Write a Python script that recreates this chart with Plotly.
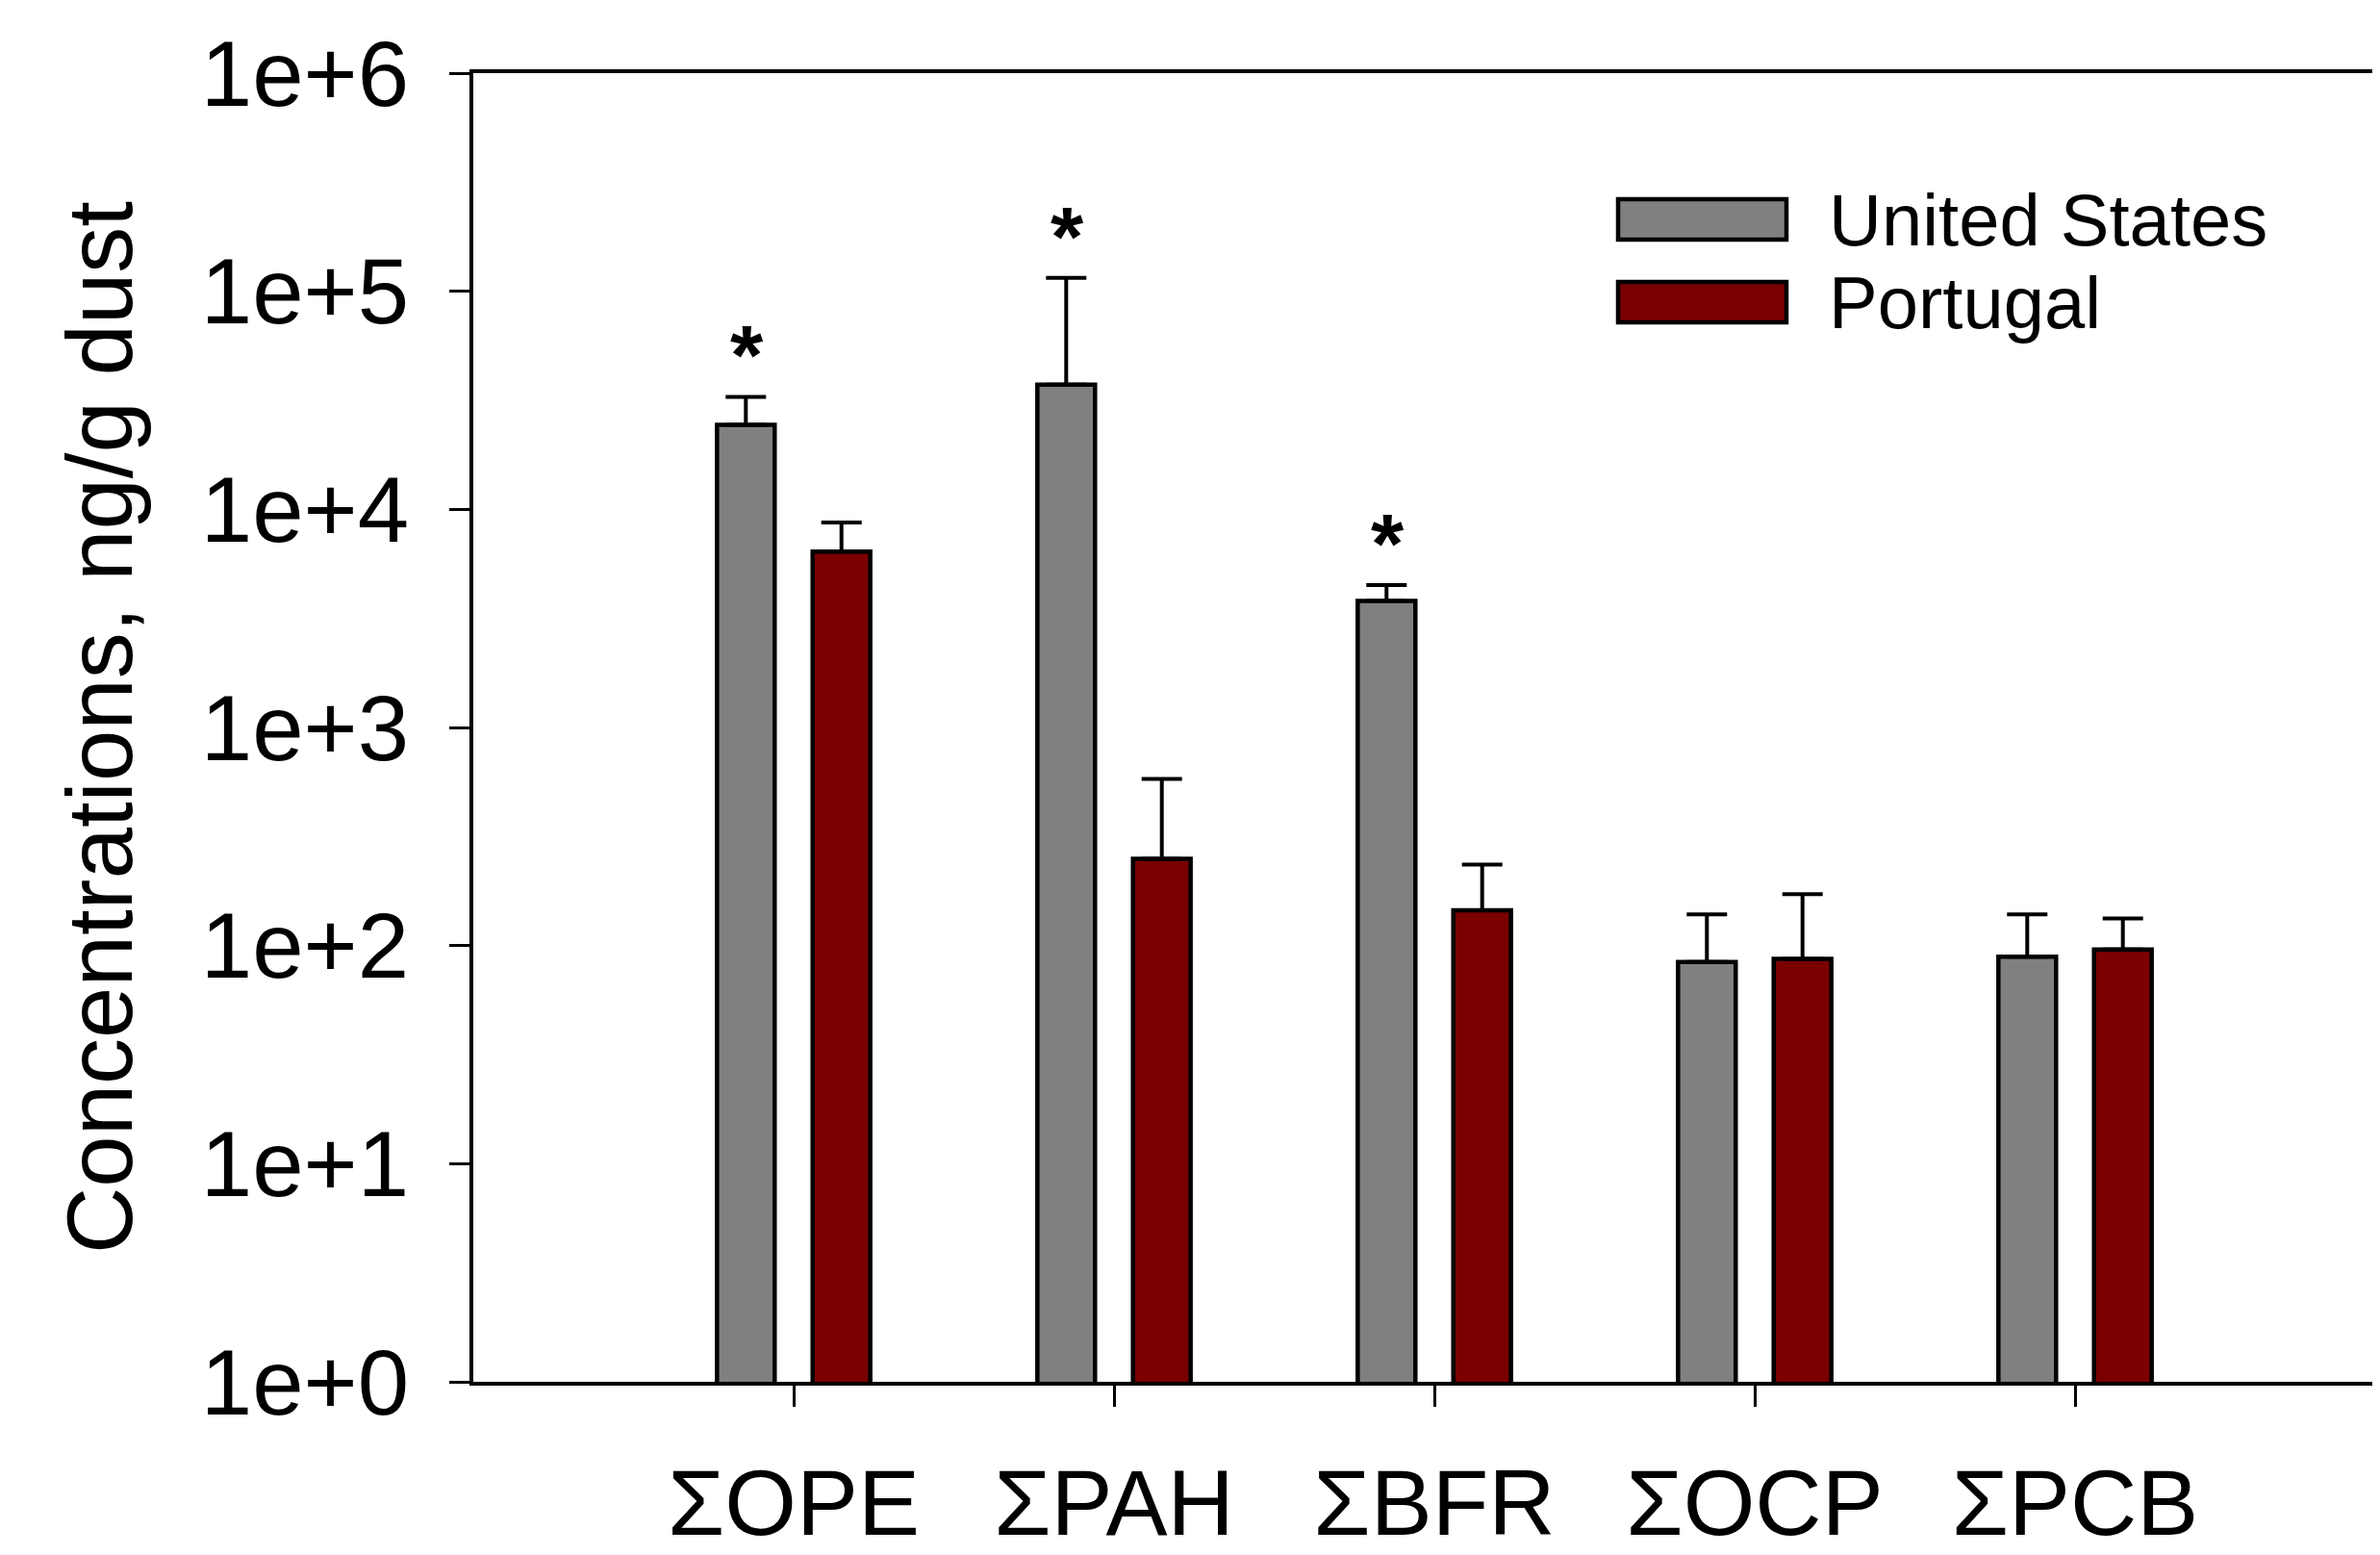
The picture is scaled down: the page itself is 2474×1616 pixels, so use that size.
import math
import plotly.graph_objects as go

categories = ["ΣOPE", "ΣPAH", "ΣBFR", "ΣOCP", "ΣPCB"]
us_values = [24400, 37300, 3800, 84, 89]
us_err_upper = [8400, 78000, 700, 55, 50]
pt_values = [6400, 250, 145, 87, 96]
pt_err_upper = [2300, 330, 90, 85, 37]
us_significant = [True, True, True, False, False]
y_tick_values = [1, 10, 100, 1000, 10000, 100000, 1000000]
y_tick_labels = ["1e+0", "1e+1", "1e+2", "1e+3", "1e+4", "1e+5", "1e+6"]

OFF = 8  # default body margin of the html page
W, H = 2474 - OFF, 1616 - OFF
L, T, R, B = 492 - OFF, 76 - OFF, 0, 180
FONT = "Arial, Liberation Sans, sans-serif"
GRAY = "#808080"
RED = "#7a0000"

x = list(range(len(categories)))

fig = go.Figure()
fig.add_trace(go.Bar(
    x=x, y=us_values, name="United States",
    marker=dict(color=GRAY, line=dict(color="black", width=4.5)),
    error_y=dict(type="data", symmetric=False, array=us_err_upper,
                 arrayminus=[0] * len(us_values), color="black", thickness=4, width=21),
    showlegend=False,
))
fig.add_trace(go.Bar(
    x=x, y=pt_values, name="Portugal",
    marker=dict(color=RED, line=dict(color="black", width=4.5)),
    error_y=dict(type="data", symmetric=False, array=pt_err_upper,
                 arrayminus=[0] * len(pt_values), color="black", thickness=4, width=21),
    showlegend=False,
))

plot_w = W - L - R
plot_h = H - T - B


def px_x(px):
    return (px - OFF - L) / plot_w


def px_y(py):
    return (H - B - (py - OFF)) / plot_h


annotations = []
for i, sig in enumerate(us_significant):
    if sig:
        annotations.append(dict(
            x=i - 0.147, y=math.log10(us_values[i] + us_err_upper[i]),
            xref="x", yref="y", text="<b>*</b>", showarrow=False,
            font=dict(family=FONT, size=88, color="black"),
            yanchor="bottom", yshift=-8,
        ))

# manual legend
shapes = []
legend_items = [("United States", GRAY, 207, 249), ("Portugal", RED, 293, 335)]
for label, col, y0, y1 in legend_items:
    shapes.append(dict(type="rect", xref="paper", yref="paper",
                       x0=px_x(1682), x1=px_x(1857), y0=px_y(y1), y1=px_y(y0),
                       fillcolor=col, line=dict(color="black", width=4.5)))
    annotations.append(dict(x=px_x(1899), y=px_y((y0 + y1) / 2), xref="paper", yref="paper",
                            text=label, showarrow=False, xanchor="left", yanchor="middle",
                            font=dict(family=FONT, size=76, color="black")))

fig.update_layout(
    width=W, height=H,
    margin=dict(l=L, r=R, t=T, b=B, autoexpand=False),
    paper_bgcolor="white", plot_bgcolor="white",
    barmode="group", bargap=0.403, bargroupgap=0.397,
    font=dict(family=FONT, size=96, color="black"),
    shapes=shapes, annotations=annotations,
    xaxis=dict(
        range=[-1, -1 + plot_w / 333.0],
        tickmode="array", tickvals=x, ticktext=categories,
        ticks="outside", ticklen=22, tickwidth=3, tickcolor="black",
        showline=True, linecolor="black", linewidth=4, mirror=True,
        showgrid=False, zeroline=False,
        tickfont=dict(family=FONT, size=96, color="black"),
        ticklabelstandoff=18,
    ),
    yaxis=dict(
        type="log", range=[0, 6],
        tickmode="array", tickvals=y_tick_values, ticktext=y_tick_labels,
        ticks="outside", ticklen=21, tickwidth=3, tickcolor="black",
        showline=True, linecolor="black", linewidth=3.5, mirror=False,
        showgrid=False, zeroline=False,
        tickfont=dict(family=FONT, size=96, color="black"),
        ticklabelstandoff=23,
        title=dict(text="Concentrations, ng/g dust", standoff=40,
                   font=dict(family=FONT, size=96, color="black")),
    ),
)

fig.write_html("out.html")
